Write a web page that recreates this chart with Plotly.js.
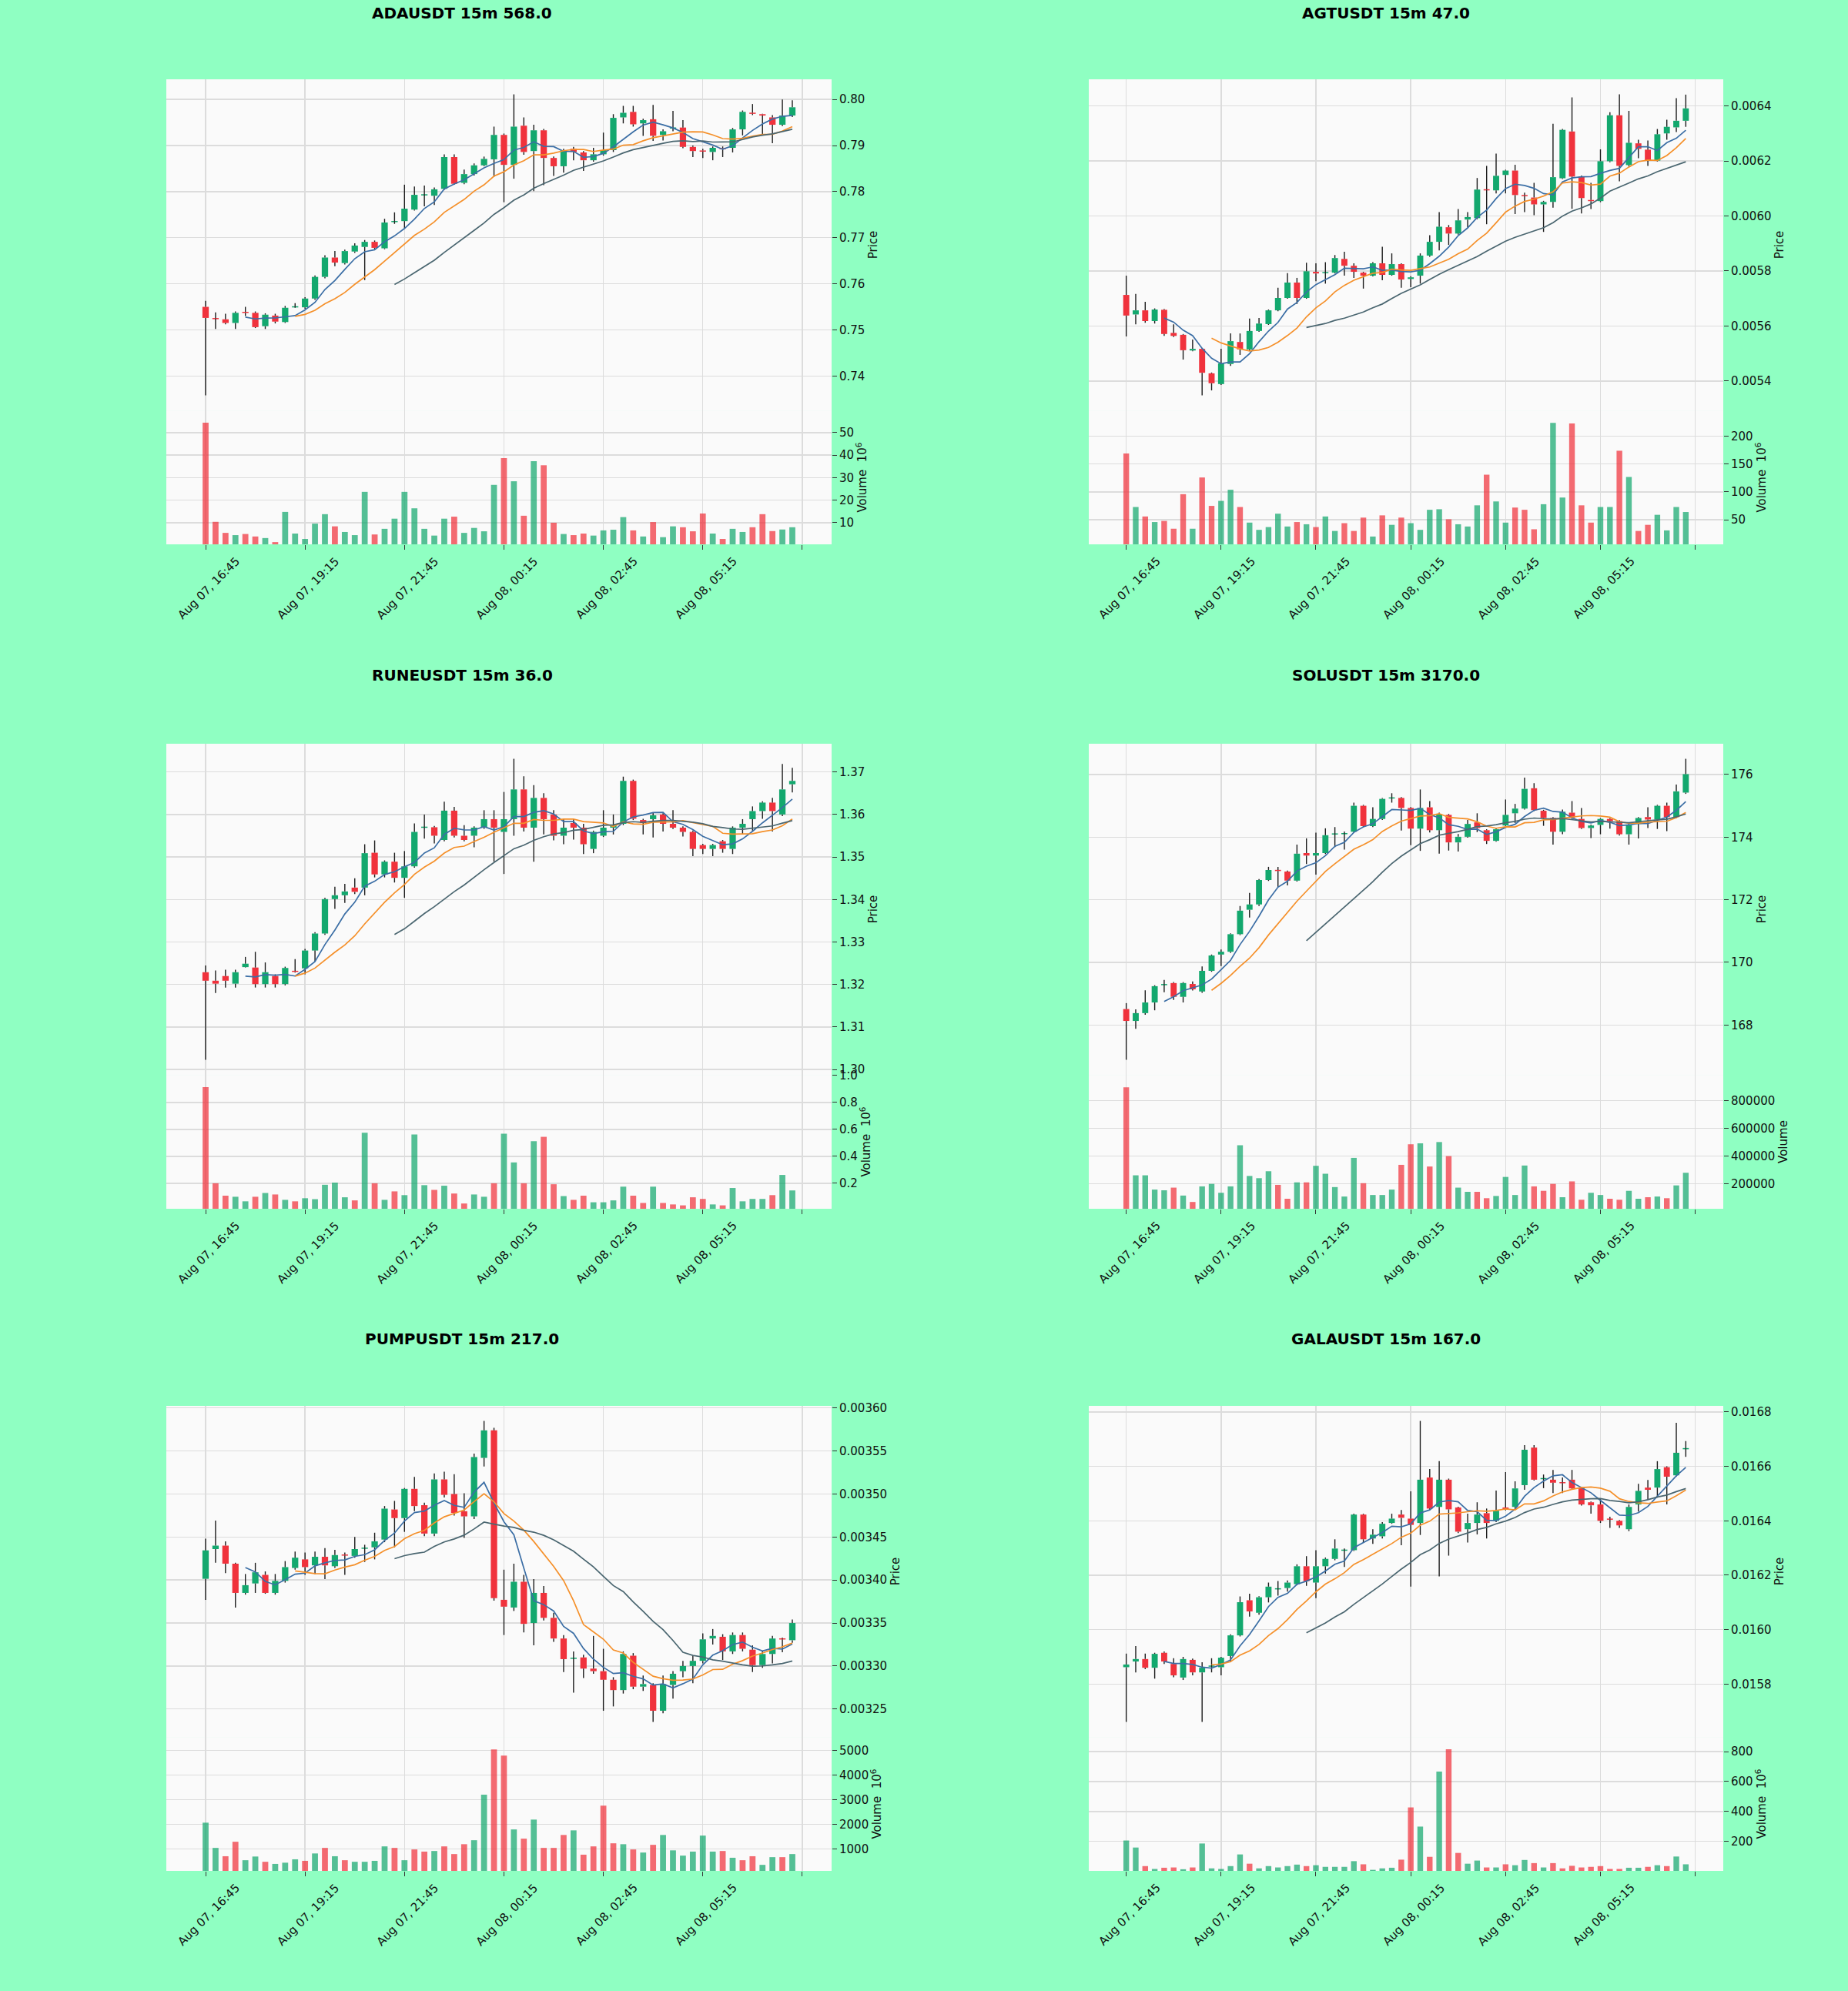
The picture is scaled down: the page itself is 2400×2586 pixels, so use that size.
<!DOCTYPE html>
<html>
<head>
<meta charset="utf-8">
<script src="https://cdn.plot.ly/plotly-3.0.1.min.js"></script>
<style>html,body{margin:0;padding:0;background:#8fffc2;}#chart{width:2400px;height:2586px;}</style>
</head>
<body>
<div id="chart"></div>
<script>
// ---------------- DATA ----------------
const xLabels = ["Aug 07, 16:45","Aug 07, 19:15","Aug 07, 21:45","Aug 08, 00:15","Aug 08, 02:45","Aug 08, 05:15",""];
const titles = ["ADAUSDT 15m 568.0","AGTUSDT 15m 47.0","RUNEUSDT 15m 36.0","SOLUSDT 15m 3170.0","PUMPUSDT 15m 217.0","GALAUSDT 15m 167.0"];

// each row: [open, close, high, low]
const adaOCHL = [
[0.7550,0.7526,0.7563,0.7358],[0.7525,0.7524,0.7538,0.7502],[0.7523,0.7515,0.7535,0.7512],[0.7515,0.7537,0.7540,0.7502],[0.7539,0.7537,0.7550,0.7530],
[0.7537,0.7506,0.7540,0.7504],[0.7508,0.7533,0.7536,0.7502],[0.7531,0.7518,0.7535,0.7514],[0.7517,0.7548,0.7552,0.7515],[0.7550,0.7550,0.7558,0.7548],
[0.7549,0.7568,0.7571,0.7546],[0.7568,0.7615,0.7618,0.7565],[0.7615,0.7657,0.7662,0.7612],[0.7657,0.7646,0.7671,0.7638],[0.7645,0.7671,0.7674,0.7642],
[0.7670,0.7683,0.7688,0.7667],[0.7680,0.7691,0.7695,0.7608],[0.7691,0.7678,0.7694,0.7675],[0.7677,0.7733,0.7741,0.7675],[0.7735,0.7735,0.7755,0.7730],
[0.7736,0.7763,0.7815,0.7721],[0.7761,0.7793,0.7811,0.7759],[0.7793,0.7793,0.7813,0.7768],[0.7791,0.7805,0.7809,0.7771],[0.7806,0.7875,0.7881,0.7804],
[0.7875,0.7817,0.7881,0.7815],[0.7819,0.7838,0.7848,0.7816],[0.7838,0.7857,0.7861,0.7835],[0.7857,0.7871,0.7876,0.7855],[0.7870,0.7923,0.7941,0.7832],
[0.7923,0.7858,0.7926,0.7777],[0.7858,0.7941,0.8011,0.7828],[0.7943,0.7886,0.7961,0.7880],[0.7888,0.7933,0.7945,0.7801],[0.7933,0.7873,0.7936,0.7814],
[0.7873,0.7855,0.7876,0.7834],[0.7855,0.7890,0.7893,0.7841],[0.7893,0.7886,0.7897,0.7868],[0.7885,0.7868,0.7888,0.7845],[0.7868,0.7881,0.7895,0.7865],
[0.7881,0.7890,0.7928,0.7878],[0.7890,0.7960,0.7968,0.7886],[0.7961,0.7971,0.7986,0.7948],[0.7973,0.7946,0.7986,0.7941],[0.7948,0.7955,0.7958,0.7921],
[0.7957,0.7921,0.7988,0.7910],[0.7923,0.7931,0.7935,0.7911],[0.7938,0.7938,0.7975,0.7931],[0.7939,0.7897,0.7955,0.7894],[0.7897,0.7888,0.7900,0.7875],
[0.7889,0.7887,0.7893,0.7873],[0.7886,0.7895,0.7898,0.7868],[0.7894,0.7892,0.7898,0.7875],[0.7895,0.7935,0.7938,0.7885],[0.7935,0.7973,0.7976,0.7922],
[0.7971,0.7969,0.7990,0.7966],[0.7968,0.7965,0.7969,0.7925],[0.7961,0.7945,0.7966,0.7905],[0.7945,0.7965,0.8000,0.7942],[0.7965,0.7983,0.7998,0.7962]];
const adaVol = [54.4,10.4,5.5,4.5,5.0,3.9,3.2,1.4,14.8,5.2,2.8,9.6,13.8,8.4,5.9,4.5,23.7,4.8,7.3,11.8,23.7,16.4,7.3,4.3,11.8,12.7,5.5,7.7,6.2,26.8,38.7,28.4,13.1,37.3,35.5,10.0,5.0,4.5,5.2,4.3,6.6,6.9,12.5,6.6,3.9,10.3,3.6,8.4,8.0,6.2,14.1,5.2,2.8,7.3,5.9,8.0,13.8,6.3,7.0,8.0];

const agtOCHL = [
[0.005713,0.005638,0.005783,0.005562],[0.005642,0.005657,0.005717,0.005606],[0.005657,0.005618,0.005688,0.005612],[0.005618,0.005660,0.005664,0.005609],[0.005659,0.005571,0.005662,0.005564],
[0.005575,0.005564,0.005606,0.005560],[0.005568,0.005512,0.005571,0.005478],[0.005511,0.005517,0.005551,0.005508],[0.005517,0.005430,0.005520,0.005348],[0.005428,0.005392,0.005431,0.005366],
[0.005389,0.005464,0.005517,0.005386],[0.005462,0.005545,0.005573,0.005455],[0.005542,0.005515,0.005573,0.005495],[0.005515,0.005582,0.005627,0.005512],[0.005582,0.005609,0.005629,0.005579],
[0.005607,0.005657,0.005660,0.005604],[0.005657,0.005702,0.005739,0.005654],[0.005702,0.005758,0.005792,0.005699],[0.005758,0.005702,0.005775,0.005680],[0.005702,0.005799,0.005830,0.005699],
[0.005797,0.005791,0.005828,0.005763],[0.005794,0.005794,0.005832,0.005754],[0.005794,0.005847,0.005858,0.005791],[0.005844,0.005819,0.005870,0.005783],[0.005819,0.005797,0.005828,0.005775],
[0.005794,0.005783,0.005797,0.005736],[0.005783,0.005828,0.005832,0.005780],[0.005828,0.005786,0.005888,0.005766],[0.005786,0.005825,0.005864,0.005783],[0.005825,0.005769,0.005828,0.005739],
[0.005771,0.005777,0.005781,0.005741],[0.005783,0.005856,0.005864,0.005754],[0.005856,0.005906,0.005930,0.005852],[0.005906,0.005961,0.006014,0.005875],[0.005959,0.005936,0.005967,0.005895],
[0.005936,0.005984,0.006025,0.005932],[0.005987,0.005996,0.006014,0.005958],[0.005992,0.006096,0.006138,0.005988],[0.006096,0.006094,0.006182,0.005970],[0.006093,0.006146,0.006227,0.006082],
[0.006149,0.006165,0.006168,0.006082],[0.006165,0.006076,0.006186,0.006007],[0.006075,0.006073,0.006085,0.006014],[0.006067,0.006042,0.006120,0.006003],[0.006042,0.006051,0.006055,0.005942],
[0.006051,0.006141,0.006335,0.006030],[0.006137,0.006313,0.006316,0.006134],[0.006307,0.006143,0.006431,0.006026],[0.006143,0.006065,0.006147,0.006009],[0.006058,0.006054,0.006120,0.006025],
[0.006054,0.006199,0.006242,0.006050],[0.006199,0.006366,0.006377,0.006195],[0.006366,0.006182,0.006442,0.006126],[0.006185,0.006266,0.006382,0.006180],[0.006264,0.006244,0.006277,0.006210],
[0.006241,0.006201,0.006274,0.006182],[0.006201,0.006297,0.006316,0.006198],[0.006300,0.006324,0.006350,0.006277],[0.006322,0.006346,0.006428,0.006305],[0.006346,0.006391,0.006441,0.006324]];
const agtVol = [169,73,56,46,48,34,96,34,126,75,84,104,73,45,32,37,61,38,46,42,37,56,30,44,30,54,20,58,41,54,44,32,68,69,51,42,38,76,131,83,45,72,68,33,78,224,90,223,76,45,73,73,174,127,30,41,59,31,73,64];

const runeOCHL = [
[1.3229,1.3209,1.3245,1.3023],[1.3209,1.3202,1.3233,1.3180],[1.3220,1.3209,1.3235,1.3193],[1.3202,1.3229,1.3235,1.3193],[1.3241,1.3249,1.3265,1.3240],
[1.3240,1.3201,1.3277,1.3193],[1.3201,1.3229,1.3252,1.3193],[1.3220,1.3201,1.3224,1.3193],[1.3201,1.3239,1.3242,1.3198],[1.3232,1.3230,1.3260,1.3228],
[1.3238,1.3280,1.3284,1.3224],[1.3280,1.3320,1.3323,1.3254],[1.3320,1.3401,1.3404,1.3317],[1.3401,1.3410,1.3430,1.3378],[1.3410,1.3419,1.3437,1.3392],
[1.3428,1.3418,1.3450,1.3413],[1.3428,1.3509,1.3530,1.3410],[1.3510,1.3459,1.3539,1.3452],[1.3459,1.3489,1.3492,1.3452],[1.3489,1.3451,1.3510,1.3440],
[1.3451,1.3478,1.3514,1.3404],[1.3478,1.3559,1.3579,1.3475],[1.3570,1.3570,1.3600,1.3543],[1.3570,1.3550,1.3573,1.3532],[1.3540,1.3609,1.3630,1.3537],
[1.3609,1.3550,1.3618,1.3546],[1.3550,1.3540,1.3575,1.3537],[1.3550,1.3569,1.3572,1.3523],[1.3569,1.3589,1.3610,1.3566],[1.3589,1.3569,1.3610,1.3489],
[1.3559,1.3589,1.3653,1.3460],[1.3589,1.3659,1.3731,1.3550],[1.3659,1.3569,1.3690,1.3560],[1.3569,1.3639,1.3669,1.3489],[1.3639,1.3589,1.3650,1.3553],
[1.3600,1.3550,1.3610,1.3539],[1.3550,1.3569,1.3589,1.3530],[1.3580,1.3569,1.3589,1.3541],[1.3569,1.3530,1.3578,1.3507],[1.3519,1.3559,1.3562,1.3509],
[1.3550,1.3569,1.3610,1.3547],[1.3569,1.3575,1.3600,1.3553],[1.3578,1.3679,1.3689,1.3575],[1.3679,1.3590,1.3682,1.3587],[1.3587,1.3580,1.3590,1.3553],
[1.3589,1.3598,1.3604,1.3546],[1.3600,1.3578,1.3603,1.3560],[1.3578,1.3569,1.3610,1.3566],[1.3569,1.3559,1.3572,1.3548],[1.3559,1.3519,1.3562,1.3502],
[1.3528,1.3519,1.3531,1.3507],[1.3519,1.3528,1.3531,1.3502],[1.3537,1.3519,1.3540,1.3510],[1.3519,1.3569,1.3572,1.3507],[1.3569,1.3578,1.3589,1.3553],
[1.3589,1.3608,1.3619,1.3560],[1.3608,1.3628,1.3631,1.3590],[1.3628,1.3608,1.3639,1.3560],[1.3600,1.3659,1.3719,1.3596],[1.3671,1.3679,1.3710,1.3652]];
const runeVol = [0.914,0.2,0.108,0.1,0.066,0.1,0.128,0.117,0.077,0.066,0.089,0.082,0.189,0.205,0.096,0.073,0.575,0.2,0.077,0.14,0.112,0.563,0.186,0.151,0.182,0.124,0.05,0.117,0.1,0.2,0.568,0.355,0.2,0.512,0.545,0.193,0.105,0.077,0.108,0.059,0.059,0.073,0.175,0.108,0.054,0.175,0.054,0.043,0.036,0.096,0.084,0.043,0.036,0.165,0.066,0.084,0.084,0.112,0.262,0.147];

const solOCHL = [
[168.51,168.13,168.70,166.89],[168.13,168.38,168.50,167.88],[168.38,168.72,169.11,168.33],[168.72,169.24,169.27,168.47],[169.29,169.29,169.44,169.05],
[169.34,168.90,169.37,168.80],[168.90,169.34,169.37,168.72],[169.31,169.14,169.39,169.10],[169.07,169.73,169.87,169.03],[169.73,170.22,170.25,169.70],
[170.25,170.34,170.41,169.88],[170.34,170.90,170.93,170.30],[170.90,171.65,171.80,170.87],[171.68,171.85,172.22,171.43],[171.85,172.63,172.66,171.80],
[172.63,172.95,173.05,172.60],[172.95,172.92,173.05,172.41],[172.90,172.61,172.93,172.46],[172.61,173.47,173.76,172.58],[173.49,173.41,173.96,173.14],
[173.41,173.49,174.14,172.80],[173.49,174.06,174.28,173.46],[174.10,174.10,174.32,173.68],[174.11,174.11,174.18,173.60],[174.17,175.00,175.10,174.14],
[175.00,174.35,175.03,174.32],[174.35,174.58,174.95,174.32],[174.58,175.22,175.25,174.55],[175.25,175.25,175.40,175.10],[175.25,174.93,175.28,174.21],
[174.93,174.27,174.96,173.74],[174.27,174.93,175.52,173.56],[174.95,174.22,175.15,174.15],[174.22,174.73,174.78,173.47],[174.71,173.83,174.74,173.57],
[173.83,174.01,174.10,173.54],[174.01,174.42,174.55,173.98],[174.47,174.29,174.76,174.16],[174.22,173.88,174.25,173.78],[173.88,174.25,174.28,173.85],
[174.37,174.71,175.20,174.34],[174.76,174.91,175.06,174.45],[174.91,175.54,175.90,174.88],[175.56,174.86,175.72,174.83],[174.84,174.61,174.87,174.36],
[174.61,174.17,174.64,173.76],[174.17,174.81,174.88,174.09],[174.78,174.61,175.15,174.58],[174.58,174.29,174.93,174.26],[174.29,174.37,174.40,173.97],
[174.39,174.58,174.61,174.09],[174.58,174.51,174.61,174.27],[174.51,174.09,174.54,174.05],[174.09,174.39,174.42,173.76],[174.42,174.61,174.64,173.96],
[174.64,174.56,174.95,174.29],[174.56,175.00,175.03,174.26],[175.00,174.64,175.10,174.19],[174.64,175.46,175.68,174.61],[175.42,176.01,176.50,175.38]];
const solVol = [895000,261600,261600,159000,154000,173000,116000,70000,182000,200000,136000,182000,478000,257000,241000,291000,193000,93000,211000,211000,330000,273000,177000,109000,387000,205000,120000,120000,159000,337000,485000,492000,325000,501000,400000,173000,143000,143000,97000,113000,250000,120000,332000,182000,150000,200000,104000,218000,86000,136000,120000,93000,86000,150000,93000,104000,109000,97000,189000,280000];

const pumpOCHL = [
[0.0034014,0.0034345,0.0034480,0.0033770],[0.0034360,0.0034400,0.0034690,0.0034200],[0.0034400,0.0034190,0.0034450,0.0034080],[0.0034190,0.0033850,0.0034200,0.0033680],[0.0033850,0.0033940,0.0034070,0.0033830],
[0.0033960,0.0034090,0.0034200,0.0033850],[0.0034060,0.0033850,0.0034100,0.0033840],[0.0033850,0.0033990,0.0034070,0.0033830],[0.0033990,0.0034150,0.0034220,0.0033970],[0.0034140,0.0034260,0.0034330,0.0034120],
[0.0034240,0.0034150,0.0034320,0.0034060],[0.0034170,0.0034270,0.0034330,0.0034070],[0.0034270,0.0034170,0.0034370,0.0034010],[0.0034160,0.0034290,0.0034350,0.0034140],[0.0034295,0.0034285,0.0034320,0.0034060],
[0.0034280,0.0034360,0.0034500,0.0034260],[0.0034370,0.0034370,0.0034410,0.0034210],[0.0034380,0.0034450,0.0034550,0.0034240],[0.0034470,0.0034830,0.0034860,0.0034440],[0.0034820,0.0034720,0.0034920,0.0034380],
[0.0034720,0.0035060,0.0035070,0.0034560],[0.0035060,0.0034860,0.0035200,0.0034800],[0.0034870,0.0034540,0.0034900,0.0034510],[0.0034540,0.0035170,0.0035240,0.0034510],[0.0035170,0.0034990,0.0035260,0.0034960],
[0.0035000,0.0034780,0.0035230,0.0034750],[0.0034800,0.0034740,0.0035010,0.0034490],[0.0034740,0.0035430,0.0035470,0.0034710],[0.0035420,0.0035740,0.0035850,0.0035320],[0.0035740,0.0033790,0.0035770,0.0033760],
[0.0033770,0.0033690,0.0034120,0.0033360],[0.0033680,0.0033980,0.0034190,0.0033640],[0.0033980,0.0033490,0.0034060,0.0033390],[0.0033500,0.0033850,0.0034010,0.0033240],[0.0033850,0.0033560,0.0033930,0.0033530],
[0.0033560,0.0033320,0.0033620,0.0033280],[0.0033320,0.0033080,0.0033360,0.0032930],[0.0033090,0.0033090,0.0033170,0.0032690],[0.0033100,0.0032970,0.0033130,0.0032860],[0.0032970,0.0032940,0.0033350,0.0032910],
[0.0032940,0.0032840,0.0033200,0.0032480],[0.0032840,0.0032720,0.0032870,0.0032530],[0.0032720,0.0033140,0.0033170,0.0032680],[0.0033120,0.0032760,0.0033150,0.0032730],[0.0032760,0.0032790,0.0032890,0.0032710],
[0.0032780,0.0032480,0.0032800,0.0032350],[0.0032480,0.0032790,0.0032890,0.0032450],[0.0032780,0.0032910,0.0032940,0.0032620],[0.0032940,0.0033000,0.0033060,0.0032870],[0.0033000,0.0033060,0.0033120,0.0032800],
[0.0033060,0.0033310,0.0033380,0.0033030],[0.0033320,0.0033350,0.0033430,0.0033250],[0.0033340,0.0033170,0.0033370,0.0033070],[0.0033170,0.0033360,0.0033390,0.0033140],[0.0033360,0.0033200,0.0033390,0.0033170],
[0.0033190,0.0033010,0.0033240,0.0032930],[0.0033010,0.0033140,0.0033170,0.0032980],[0.0033140,0.0033320,0.0033350,0.0033030],[0.0033320,0.0033310,0.0033330,0.0033160],[0.0033300,0.0033500,0.0033540,0.0033270]];
const pumpVol = [2063,1038,700,1288,538,688,475,388,438,575,513,813,1038,700,538,475,475,513,1100,1038,538,975,888,913,1100,788,1188,1350,3200,5038,4788,1788,1413,2188,1038,1038,1563,1750,763,1100,2750,1225,1188,975,850,1163,1563,938,725,888,1538,888,913,638,538,700,350,663,663,788];

const galaOCHL = [
[0.015862,0.015872,0.015912,0.015661],[0.015883,0.015892,0.015940,0.015843],[0.015892,0.015860,0.015912,0.015855],[0.015860,0.015911,0.015915,0.015820],[0.015915,0.015883,0.015920,0.015874],
[0.015874,0.015832,0.015895,0.015825],[0.015824,0.015892,0.015900,0.015815],[0.015889,0.015843,0.015894,0.015832],[0.015843,0.015860,0.015880,0.015661],[0.015866,0.015866,0.015895,0.015843],
[0.015862,0.015897,0.015900,0.015832],[0.015903,0.015979,0.015983,0.015880],[0.015979,0.016101,0.016122,0.015975],[0.016108,0.016067,0.016132,0.016048],[0.016062,0.016119,0.016123,0.016055],
[0.016119,0.016158,0.016173,0.016100],[0.016150,0.016150,0.016179,0.016125],[0.016153,0.016173,0.016181,0.016140],[0.016167,0.016233,0.016240,0.016163],[0.016233,0.016178,0.016270,0.016161],
[0.016173,0.016233,0.016292,0.016116],[0.016233,0.016260,0.016265,0.016206],[0.016260,0.016298,0.016332,0.016255],[0.016292,0.016292,0.016298,0.016230],[0.016292,0.016423,0.016426,0.016289],
[0.016423,0.016332,0.016426,0.016320],[0.016335,0.016349,0.016369,0.016315],[0.016343,0.016389,0.016395,0.016335],[0.016392,0.016408,0.016426,0.016389],[0.016423,0.016411,0.016440,0.016310],
[0.016408,0.016385,0.016508,0.016158],[0.016392,0.016551,0.016767,0.016348],[0.016559,0.016445,0.016590,0.016440],[0.016451,0.016551,0.016619,0.016196],[0.016551,0.016442,0.016555,0.016272],
[0.016449,0.016360,0.016452,0.016355],[0.016369,0.016392,0.016426,0.016320],[0.016392,0.016423,0.016468,0.016350],[0.016428,0.016392,0.016445,0.016335],[0.016400,0.016437,0.016511,0.016395],
[0.016449,0.016442,0.016579,0.016438],[0.016451,0.016519,0.016545,0.016440],[0.016531,0.016661,0.016678,0.016514],[0.016669,0.016551,0.016678,0.016548],[0.016555,0.016555,0.016570,0.016520],
[0.016551,0.016540,0.016587,0.016502],[0.016541,0.016539,0.016559,0.016502],[0.016551,0.016519,0.016587,0.016514],[0.016522,0.016460,0.016525,0.016456],[0.016468,0.016457,0.016471,0.016426],
[0.016460,0.016400,0.016480,0.016392],[0.016407,0.016405,0.016415,0.016374],[0.016400,0.016383,0.016403,0.016374],[0.016369,0.016451,0.016460,0.016362],[0.016460,0.016510,0.016536,0.016434],
[0.016522,0.016514,0.016550,0.016477],[0.016522,0.016590,0.016619,0.016485],[0.016597,0.016562,0.016600,0.016460],[0.016567,0.016650,0.016760,0.016563],[0.016665,0.016665,0.016693,0.016635]];
const galaVol = [206,159,35,16,24,26,14,26,186,20,16,35,113,51,20,35,26,35,45,35,41,30,30,30,68,47,10,20,24,78,427,299,97,667,816,123,51,72,26,26,47,41,76,55,26,55,20,37,26,30,35,16,16,24,24,30,41,35,99,47];

const maWindows = [5, 10, 20];

// ---------------- STYLE / LAYOUT ----------------
const UP = '#13a86e', DOWN = '#f0323c';
const VUP = 'rgba(19,168,110,0.72)', VDOWN = 'rgba(240,50,60,0.72)';
const MA_COLORS = ['#3b6ea5', '#f5902a', '#4a6670'];
const WICK = '#1c1c1c';
const GRID = '#dcdcdc';
const FONT = 'DejaVu Sans';

const panels = [
  {ochl: adaOCHL,  vol: adaVol,  col: 0, row: 0, pfmt: '.2f', pd: 0.01,    vfmt: 'd',   vd: 10,     vtitle: 'Volume  10<sup>6</sup>'},
  {ochl: agtOCHL,  vol: agtVol,  col: 1, row: 0, pfmt: '.4f', pd: 0.0002,  vfmt: 'd',   vd: 50,     vtitle: 'Volume  10<sup>6</sup>'},
  {ochl: runeOCHL, vol: runeVol, col: 0, row: 1, pfmt: '.2f', pd: 0.01,    vfmt: '.1f', vd: 0.2,    vtitle: 'Volume  10<sup>6</sup>'},
  {ochl: solOCHL,  vol: solVol,  col: 1, row: 1, pfmt: 'd',   pd: 2,       vfmt: 'd',   vd: 200000, vtitle: 'Volume'},
  {ochl: pumpOCHL, vol: pumpVol, col: 0, row: 2, pfmt: '.5f', pd: 0.00005, vfmt: 'd',   vd: 1000,   vtitle: 'Volume  10<sup>6</sup>'},
  {ochl: galaOCHL, vol: galaVol, col: 1, row: 2, pfmt: '.4f', pd: 0.0002,  vfmt: 'd',   vd: 200,    vtitle: 'Volume  10<sup>6</sup>'}
];
const W = 2400, H = 2586;
const colX = [[216/W, 1080/W], [1414/W, 2238/W]];
const rowTop = [103, 966, 1826];
const panelH = 604, priceFrac = 0.712;
const titleY = [16.5, 877, 1739];
const titleX = [0.25, 0.75];

function sma(arr, n) {
  return arr.map((v, i) => {
    if (i < n - 1) return null;
    let s = 0; for (let k = i - n + 1; k <= i; k++) s += arr[k];
    return s / n;
  });
}

const traces = [];
const layout = {
  width: W, height: H,
  margin: {l: 0, r: 0, t: 0, b: 0},
  paper_bgcolor: '#8fffc2',
  plot_bgcolor: '#fafafa',
  showlegend: false,
  barmode: 'overlay',
  font: {family: FONT, size: 15, color: '#111'},
  annotations: []
};

panels.forEach((p, k) => {
  const xa = 'x' + (k + 1), ya = 'y' + (2 * k + 1), yv = 'y' + (2 * k + 2);
  const xKey = 'xaxis' + (k + 1), yKey = 'yaxis' + (2 * k + 1), yvKey = 'yaxis' + (2 * k + 2);
  const O = p.ochl.map(r => r[0]), C = p.ochl.map(r => r[1]), Hh = p.ochl.map(r => r[2]), L = p.ochl.map(r => r[3]);
  const idx = O.map((_, i) => i);
  const lo = Math.min(...L), hi = Math.max(...Hh), pad = 0.05 * (hi - lo);
  const prange = [lo - pad, hi + pad];
  const minBody = (prange[1] - prange[0]) * 0.0035;
  const up = O.map((o, i) => C[i] >= o);

  // wicks (upper and lower segments)
  const wx = [], wy = [];
  idx.forEach(i => {
    const top = Math.max(O[i], C[i]), bot = Math.min(O[i], C[i]);
    wx.push(i, i, null, i, i, null);
    wy.push(Hh[i], top, null, bot, L[i], null);
  });
  traces.push({type: 'scatter', mode: 'lines', x: wx, y: wy, xaxis: xa, yaxis: ya,
    line: {color: WICK, width: 1.4}, hoverinfo: 'skip'});

  // bodies
  const hgt = idx.map(i => Math.max(Math.abs(C[i] - O[i]), minBody));
  const baseAdj = idx.map(i => Math.abs(C[i] - O[i]) < minBody ? (O[i] + C[i]) / 2 - minBody / 2 : Math.min(O[i], C[i]));
  traces.push({type: 'bar', x: idx, y: hgt, base: baseAdj, xaxis: xa, yaxis: ya, width: 0.64,
    marker: {color: up.map(u => u ? UP : DOWN), line: {width: 0}}, hoverinfo: 'skip'});

  // moving averages
  maWindows.forEach((n, m) => {
    traces.push({type: 'scatter', mode: 'lines', x: idx, y: sma(C, n), xaxis: xa, yaxis: ya,
      line: {color: MA_COLORS[m], width: 1.7}, connectgaps: false, hoverinfo: 'skip'});
  });

  // volume
  traces.push({type: 'bar', x: idx, y: p.vol, xaxis: xa, yaxis: yv, width: 0.6,
    marker: {color: up.map(u => u ? VUP : VDOWN), line: {width: 0}}, hoverinfo: 'skip'});
  const vrange = [0.3 * Math.min(...p.vol), 1.1 * Math.max(...p.vol)];

  const top = rowTop[p.row], bnd = top + panelH * priceFrac, bot = top + panelH;
  const yTop = 1 - top / H, yBnd = 1 - bnd / H, yBot = 1 - bot / H;

  layout[xKey] = {
    domain: colX[p.col], anchor: yv, range: [-3.95, 62.95],
    tickmode: 'array', tickvals: xLabels.map((_, i) => i * 10),
    showticklabels: false,
    ticks: 'outside', ticklen: 6, tickcolor: '#333',
    showgrid: true, gridcolor: GRID, gridwidth: 1.4, zeroline: false, showline: false
  };
  layout[yKey] = {
    domain: [yBnd, yTop], anchor: xa, side: 'right', range: prange,
    tick0: 0, dtick: p.pd, tickformat: p.pfmt, ticks: 'outside', ticklen: 6, tickcolor: '#333',
    showgrid: true, gridcolor: GRID, gridwidth: 1.4, zeroline: false, showline: false,
    tickfont: {family: FONT, size: 15, color: '#111'},
    title: {text: 'Price', font: {family: FONT, size: 15, color: '#111'}, standoff: 6}
  };
  layout[yvKey] = {
    domain: [yBot, yBnd], anchor: xa, side: 'right', range: vrange,
    tick0: 0, dtick: p.vd, tickformat: p.vfmt, ticks: 'outside', ticklen: 6, tickcolor: '#333',
    showgrid: true, gridcolor: GRID, gridwidth: 1.4, zeroline: false, showline: false,
    tickfont: {family: FONT, size: 15, color: '#111'},
    title: {text: p.vtitle, font: {family: FONT, size: 15, color: '#111'}, standoff: 6}
  };

  // rotated date labels, centred under their ticks
  xLabels.forEach((lab, i) => {
    if (!lab) return;
    layout.annotations.push({
      text: lab, xref: xa, x: i * 10, yref: 'paper', y: yBot - 10 / H,
      xanchor: 'center', yanchor: 'top', textangle: -45, showarrow: false, xshift: 4,
      font: {family: FONT, size: 15, color: '#111'}
    });
  });

  layout.annotations.push({
    text: '<b>' + titles[k] + '</b>', xref: 'paper', yref: 'paper',
    x: titleX[p.col], y: 1 - titleY[p.row] / H, xanchor: 'center', yanchor: 'middle',
    showarrow: false, font: {family: FONT, size: 20, color: '#000'}
  });
});

Plotly.newPlot('chart', traces, layout, {staticPlot: true, displayModeBar: false});
</script>
</body>
</html>
